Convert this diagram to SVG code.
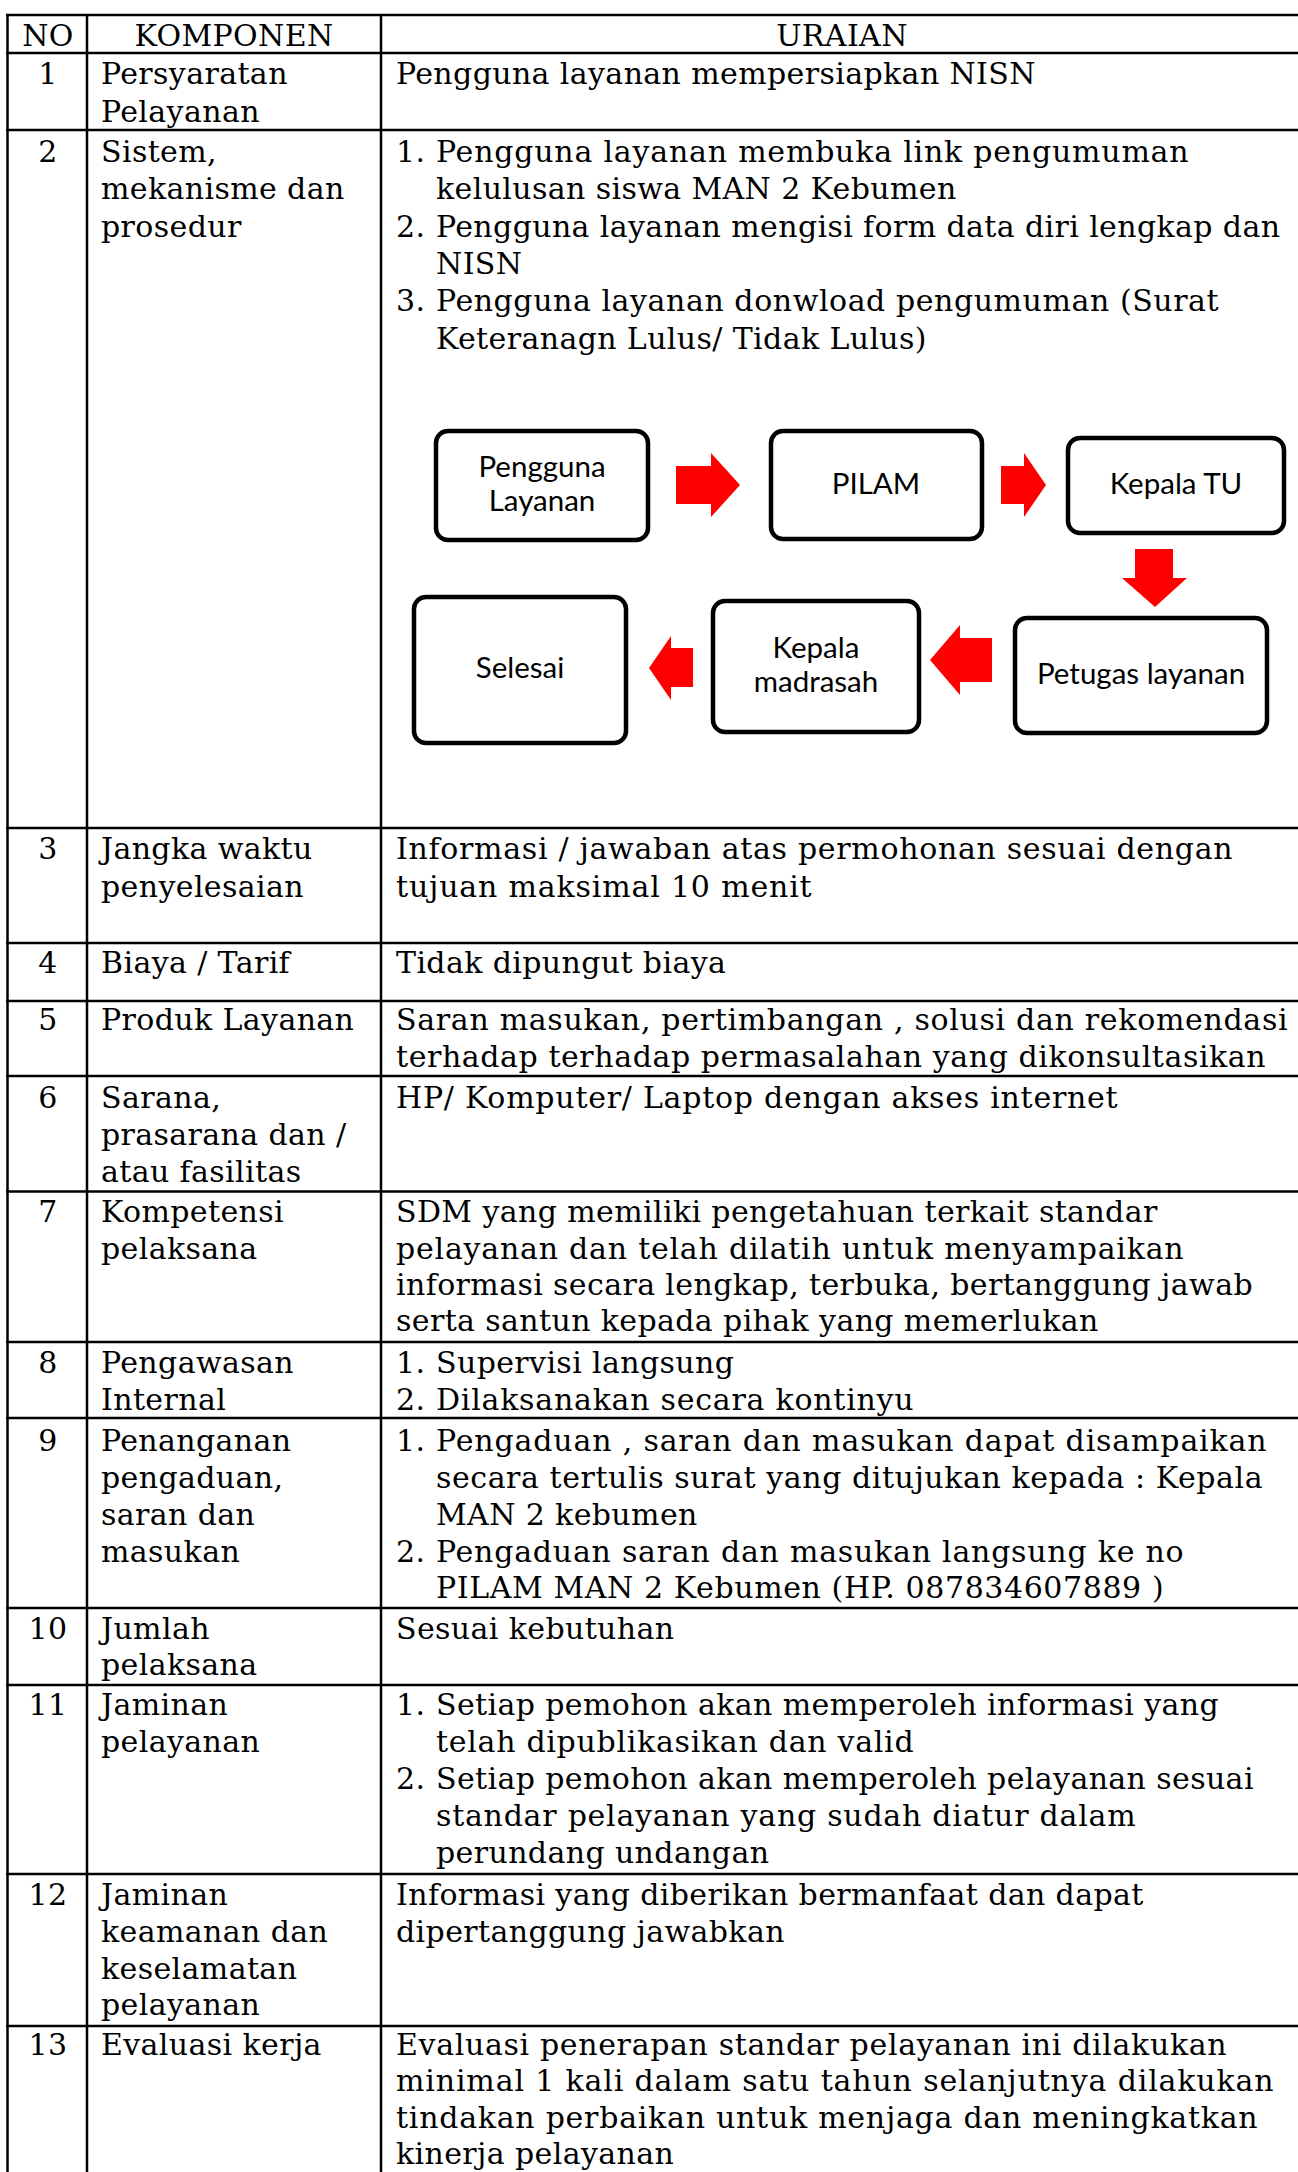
<svg xmlns="http://www.w3.org/2000/svg" width="1298" height="2172" viewBox="0 0 1298 2172">
  <style>
    .grid line { stroke: #000; stroke-width: 2.5; }
    .t { font-family: "DejaVu Serif", "Liberation Serif", serif; font-size: 30px; letter-spacing: 0.38px; fill: #000; }
    .c { text-anchor: middle; }
    .box { fill: #fff; stroke: #000; stroke-width: 4.5; }
    .bt { font-family: Lato, "Open Sans", "Liberation Sans", sans-serif; font-size: 29.5px; fill: #000; text-anchor: middle; }
    .arrow { fill: #ff0000; }
  </style>
  <rect width="1298" height="2172" fill="#fff"/>

  <!-- table rules -->
  <g class="grid">
    <line x1="7.5" y1="15" x2="7.5" y2="2172"/>
    <line x1="87" y1="15" x2="87" y2="2172"/>
    <line x1="381" y1="15" x2="381" y2="2172"/>
    <line x1="6" y1="15" x2="1298" y2="15"/>
    <line x1="6" y1="53" x2="1298" y2="53"/>
    <line x1="6" y1="130" x2="1298" y2="130"/>
    <line x1="6" y1="828" x2="1298" y2="828"/>
    <line x1="6" y1="943" x2="1298" y2="943"/>
    <line x1="6" y1="1001" x2="1298" y2="1001"/>
    <line x1="6" y1="1076" x2="1298" y2="1076"/>
    <line x1="6" y1="1191.5" x2="1298" y2="1191.5"/>
    <line x1="6" y1="1342" x2="1298" y2="1342"/>
    <line x1="6" y1="1418" x2="1298" y2="1418"/>
    <line x1="6" y1="1608" x2="1298" y2="1608"/>
    <line x1="6" y1="1685" x2="1298" y2="1685"/>
    <line x1="6" y1="1874" x2="1298" y2="1874"/>
    <line x1="6" y1="2026" x2="1298" y2="2026"/>
  </g>

  <!-- header -->
  <g id="header">
    <text class="t c" x="48" y="46">NO</text>
    <text class="t c" x="234" y="46">KOMPONEN</text>
    <text class="t c" x="842" y="46">URAIAN</text>
  </g>

  <g id="row1">
    <text class="t c" x="48" y="84">1</text>
    <text class="t" x="101" y="84">Persyaratan</text>
    <text class="t" x="101" y="121.5">Pelayanan</text>
    <text class="t" x="396" y="84">Pengguna layanan mempersiapkan NISN</text>
  </g>

  <g id="row2">
    <text class="t c" x="48" y="161.5">2</text>
    <text class="t" x="101" y="161.5">Sistem,</text>
    <text class="t" x="101" y="199">mekanisme dan</text>
    <text class="t" x="101" y="236.5">prosedur</text>
    <text class="t" x="396" y="161.5">1.</text>
    <text class="t" x="436" y="161.5" textLength="753" lengthAdjust="spacing">Pengguna layanan membuka link pengumuman</text>
    <text class="t" x="436" y="199">kelulusan siswa MAN 2 Kebumen</text>
    <text class="t" x="396" y="236.5">2.</text>
    <text class="t" x="436" y="236.5">Pengguna layanan mengisi form data diri lengkap dan</text>
    <text class="t" x="436" y="273.5">NISN</text>
    <text class="t" x="396" y="311">3.</text>
    <text class="t" x="436" y="311" textLength="783" lengthAdjust="spacing">Pengguna layanan donwload pengumuman (Surat</text>
    <text class="t" x="436" y="348.5">Keteranagn Lulus/ Tidak Lulus)</text>
  </g>

  <!-- service flow inside row 2 -->
  <g id="node-pengguna">
    <rect class="box" x="436" y="431" width="212" height="109" rx="12"/>
    <text class="bt" x="542" y="477">Pengguna</text>
    <text class="bt" x="542" y="511">Layanan</text>
  </g>
  <g id="node-pilam">
    <rect class="box" x="771" y="431" width="211" height="108" rx="12"/>
    <text class="bt" x="876" y="494">PILAM</text>
  </g>
  <g id="node-kepala-tu">
    <rect class="box" x="1068" y="438" width="216" height="95" rx="12"/>
    <text class="bt" x="1176" y="494">Kepala TU</text>
  </g>
  <g id="node-petugas">
    <rect class="box" x="1015" y="618" width="252" height="115" rx="12"/>
    <text class="bt" x="1141" y="684">Petugas layanan</text>
  </g>
  <g id="node-kepala-madrasah">
    <rect class="box" x="713" y="601" width="206" height="131" rx="12"/>
    <text class="bt" x="816" y="658">Kepala</text>
    <text class="bt" x="816" y="692">madrasah</text>
  </g>
  <g id="node-selesai">
    <rect class="box" x="414" y="597" width="212" height="146" rx="12"/>
    <text class="bt" x="520" y="678">Selesai</text>
  </g>

  <g id="connectors">
    <polygon class="arrow" points="676,466 711,466 711,453 740,485 711,517 711,504 676,504"/>
    <polygon class="arrow" points="1001,466 1024,466 1024,453 1046,485 1024,517 1024,504 1001,504"/>
    <polygon class="arrow" points="1135,549 1173,549 1173,578 1187,578 1155,607 1122,578 1135,578"/>
    <polygon class="arrow" points="992,638 960,638 960,625 930,660 960,695 960,682 992,682"/>
    <polygon class="arrow" points="693,648 671,648 671,636 649,668 671,700 671,687 693,687"/>
  </g>

  <g id="row3">
    <text class="t c" x="48" y="858.5">3</text>
    <text class="t" x="101" y="858.5">Jangka waktu</text>
    <text class="t" x="101" y="896.5">penyelesaian</text>
    <text class="t" x="396" y="858.5" textLength="837" lengthAdjust="spacing">Informasi / jawaban atas permohonan sesuai dengan</text>
    <text class="t" x="396" y="896.5" textLength="416" lengthAdjust="spacing">tujuan maksimal 10 menit</text>
  </g>

  <g id="row4">
    <text class="t c" x="48" y="973">4</text>
    <text class="t" x="101" y="973">Biaya / Tarif</text>
    <text class="t" x="396" y="973">Tidak dipungut biaya</text>
  </g>

  <g id="row5">
    <text class="t c" x="48" y="1030">5</text>
    <text class="t" x="101" y="1030">Produk Layanan</text>
    <text class="t" x="396" y="1030" textLength="892" lengthAdjust="spacing">Saran masukan, pertimbangan , solusi dan rekomendasi</text>
    <text class="t" x="396" y="1066.5" textLength="870" lengthAdjust="spacing">terhadap terhadap permasalahan yang dikonsultasikan</text>
  </g>

  <g id="row6">
    <text class="t c" x="48" y="1108">6</text>
    <text class="t" x="101" y="1108">Sarana,</text>
    <text class="t" x="101" y="1145">prasarana dan /</text>
    <text class="t" x="101" y="1181.5">atau fasilitas</text>
    <text class="t" x="396" y="1108" textLength="722" lengthAdjust="spacing">HP/ Komputer/ Laptop dengan akses internet</text>
  </g>

  <g id="row7">
    <text class="t c" x="48" y="1222">7</text>
    <text class="t" x="101" y="1222">Kompetensi</text>
    <text class="t" x="101" y="1258.5">pelaksana</text>
    <text class="t" x="396" y="1222">SDM yang memiliki pengetahuan terkait standar</text>
    <text class="t" x="396" y="1258.5" textLength="788" lengthAdjust="spacing">pelayanan dan telah dilatih untuk menyampaikan</text>
    <text class="t" x="396" y="1295">informasi secara lengkap, terbuka, bertanggung jawab</text>
    <text class="t" x="396" y="1331">serta santun kepada pihak yang memerlukan</text>
  </g>

  <g id="row8">
    <text class="t c" x="48" y="1373">8</text>
    <text class="t" x="101" y="1373">Pengawasan</text>
    <text class="t" x="101" y="1409.5">Internal</text>
    <text class="t" x="396" y="1373">1.</text>
    <text class="t" x="436" y="1373">Supervisi langsung</text>
    <text class="t" x="396" y="1409.5">2.</text>
    <text class="t" x="436" y="1409.5" textLength="478" lengthAdjust="spacing">Dilaksanakan secara kontinyu</text>
  </g>

  <g id="row9">
    <text class="t c" x="48" y="1451">9</text>
    <text class="t" x="101" y="1451">Penanganan</text>
    <text class="t" x="101" y="1488">pengaduan,</text>
    <text class="t" x="101" y="1525">saran dan</text>
    <text class="t" x="101" y="1561.5">masukan</text>
    <text class="t" x="396" y="1451">1.</text>
    <text class="t" x="436" y="1451" textLength="831" lengthAdjust="spacing">Pengaduan , saran dan masukan dapat disampaikan</text>
    <text class="t" x="436" y="1488" textLength="827" lengthAdjust="spacing">secara tertulis surat yang ditujukan kepada : Kepala</text>
    <text class="t" x="436" y="1525">MAN 2 kebumen</text>
    <text class="t" x="396" y="1561.5">2.</text>
    <text class="t" x="436" y="1561.5" textLength="748" lengthAdjust="spacing">Pengaduan saran dan masukan langsung ke no</text>
    <text class="t" x="436" y="1598" textLength="728" lengthAdjust="spacing">PILAM MAN 2 Kebumen (HP. 087834607889 )</text>
  </g>

  <g id="row10">
    <text class="t c" x="48" y="1638.5">10</text>
    <text class="t" x="101" y="1638.5">Jumlah</text>
    <text class="t" x="101" y="1675">pelaksana</text>
    <text class="t" x="396" y="1638.5">Sesuai kebutuhan</text>
  </g>

  <g id="row11">
    <text class="t c" x="48" y="1715">11</text>
    <text class="t" x="101" y="1715">Jaminan</text>
    <text class="t" x="101" y="1752">pelayanan</text>
    <text class="t" x="396" y="1715">1.</text>
    <text class="t" x="436" y="1715">Setiap pemohon akan memperoleh informasi yang</text>
    <text class="t" x="436" y="1752" textLength="478" lengthAdjust="spacing">telah dipublikasikan dan valid</text>
    <text class="t" x="396" y="1789">2.</text>
    <text class="t" x="436" y="1789">Setiap pemohon akan memperoleh pelayanan sesuai</text>
    <text class="t" x="436" y="1826" textLength="700" lengthAdjust="spacing">standar pelayanan yang sudah diatur dalam</text>
    <text class="t" x="436" y="1863">perundang undangan</text>
  </g>

  <g id="row12">
    <text class="t c" x="48" y="1904.5">12</text>
    <text class="t" x="101" y="1904.5">Jaminan</text>
    <text class="t" x="101" y="1941.5">keamanan dan</text>
    <text class="t" x="101" y="1978.5">keselamatan</text>
    <text class="t" x="101" y="2015">pelayanan</text>
    <text class="t" x="396" y="1904.5">Informasi yang diberikan bermanfaat dan dapat</text>
    <text class="t" x="396" y="1941.5">dipertanggung jawabkan</text>
  </g>

  <g id="row13">
    <text class="t c" x="48" y="2054.5">13</text>
    <text class="t" x="101" y="2054.5">Evaluasi kerja</text>
    <text class="t" x="396" y="2054.5" textLength="831" lengthAdjust="spacing">Evaluasi penerapan standar pelayanan ini dilakukan</text>
    <text class="t" x="396" y="2091" textLength="878" lengthAdjust="spacing">minimal 1 kali dalam satu tahun selanjutnya dilakukan</text>
    <text class="t" x="396" y="2127.5" textLength="862" lengthAdjust="spacing">tindakan perbaikan untuk menjaga dan meningkatkan</text>
    <text class="t" x="396" y="2164">kinerja pelayanan</text>
  </g>
</svg>
